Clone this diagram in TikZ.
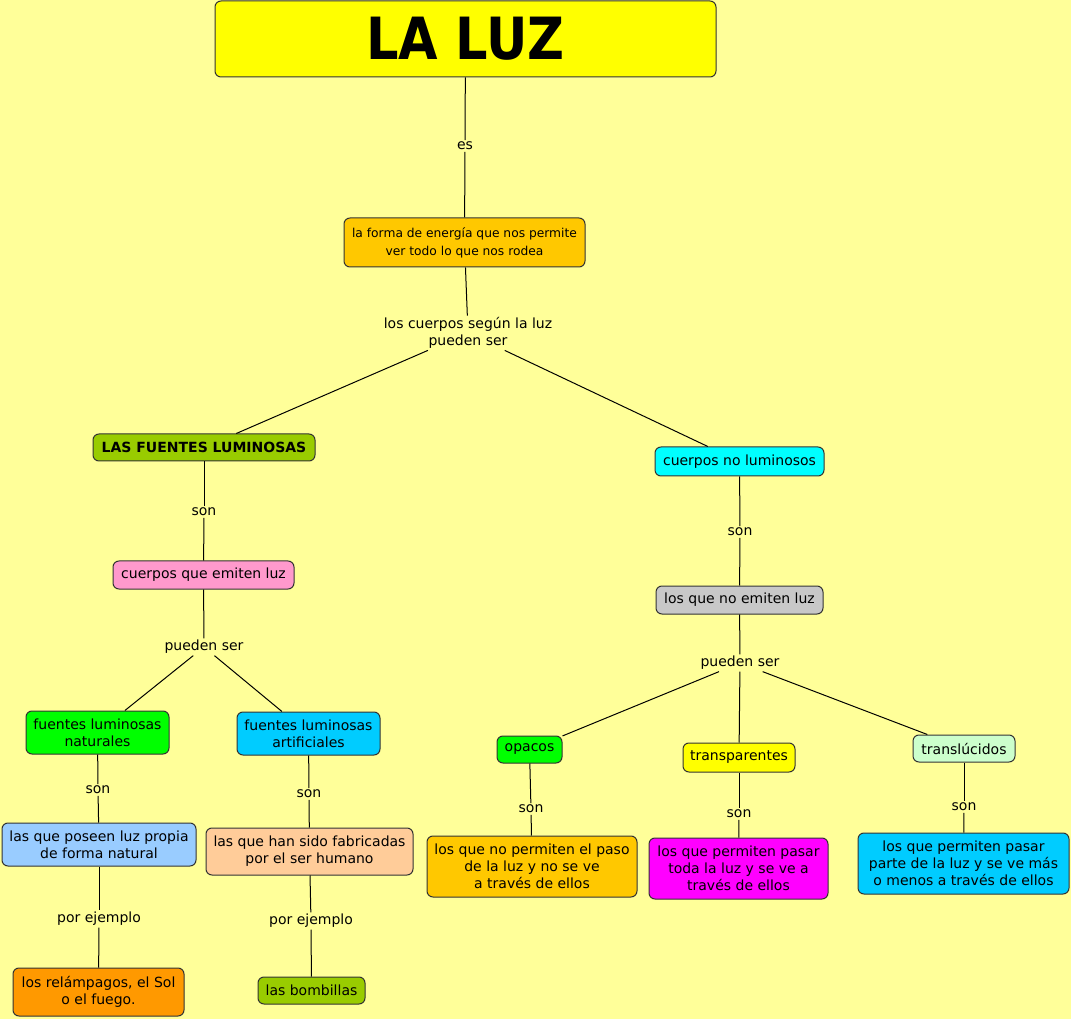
\documentclass[tikz,border=0pt]{standalone}
\usepackage{fontspec}
\setmainfont{DejaVu Sans}
\definecolor{bgc}{HTML}{FFFF99}
\definecolor{cyellow}{HTML}{FFFF00}
\definecolor{camber}{HTML}{FFC800}
\definecolor{colive}{HTML}{99CC00}
\definecolor{cpink}{HTML}{FF99CC}
\definecolor{cgreen}{HTML}{00FF00}
\definecolor{csky}{HTML}{00CCFF}
\definecolor{clblue}{HTML}{99CCFF}
\definecolor{corange}{HTML}{FF9900}
\definecolor{cpeach}{HTML}{FFCC99}
\definecolor{ccyan}{HTML}{00FFFF}
\definecolor{cgray}{HTML}{C8C8C8}
\definecolor{cmint}{HTML}{CCFFCC}
\definecolor{cmagenta}{HTML}{FF00FF}
\begin{document}
\begin{tikzpicture}[x=0.75pt,y=-0.75pt,
  box/.style={draw=black!80, rounded corners=4.5pt, line width=0.75pt, align=center, inner sep=0pt,
    font=\fontsize{10.5pt}{12.75pt}\selectfont},
  sz/.style 2 args={minimum width=#1*0.75pt, minimum height=#2*0.75pt},
  lbl/.style={align=center, inner sep=1.2pt, yshift=-1.5pt, font=\fontsize{10.5pt}{12.75pt}\selectfont},
  conn/.style={line width=0.75pt, draw=black}]
\fill[bgc] (0,0) rectangle (1071,1019);
\useasboundingbox (0,0) rectangle (1071,1019);

% boxes
\node[box, fill=cyellow, sz={501}{76}, font=\bfseries\fontsize{45pt}{45pt}\selectfont] (laluz) at (465.5,39) {\scalebox{0.85}[0.97]{LA LUZ}};
\node[box, fill=camber, sz={241}{49}, font=\fontsize{9.2pt}{13.5pt}\selectfont] (forma) at (464.5,242.5) {la forma de energía que nos permite\\ver todo lo que nos rodea};
\node[box, fill=colive, sz={222}{27}, font=\bfseries\fontsize{10.5pt}{12.75pt}\selectfont] (fuentes) at (204,447.5) {LAS FUENTES LUMINOSAS};
\node[box, fill=cpink, sz={181}{28}] (emiten) at (203.5,575) {cuerpos que emiten luz};
\node[box, fill=cgreen, sz={143}{43}] (naturales) at (97.5,732.5) {fuentes luminosas\\naturales};
\node[box, fill=csky, sz={143}{43}] (artificiales) at (308.5,733.5) {fuentes luminosas\\artificiales};
\node[box, fill=clblue, sz={194}{43}] (poseen) at (99,844.5) {las que poseen luz propia\\de forma natural};
\node[box, fill=corange, sz={171}{48}] (relampagos) at (98.5,992) {los relámpagos, el Sol\\o el fuego.};
\node[box, fill=cpeach, sz={207}{47}] (fabricadas) at (309.5,851.5) {las que han sido fabricadas\\por el ser humano};
\node[box, fill=colive, sz={107}{27}] (bombillas) at (311.5,990.5) {las bombillas};
\node[box, fill=ccyan, sz={169}{29}] (noluminosos) at (739.5,461.5) {cuerpos no luminosos};
\node[box, fill=cgray, sz={167}{28}] (noemiten) at (739.5,600) {los que no emiten luz};
\node[box, fill=cgreen, sz={65}{27}] (opacos) at (529.5,749.5) {opacos};
\node[box, fill=cyellow, sz={112}{29}] (transparentes) at (739,757.5) {transparentes};
\node[box, fill=cmint, sz={102}{27}] (translucidos) at (964,748.5) {translúcidos};
\node[box, fill=camber, sz={210}{61}] (nopermiten) at (532,866.5) {los que no permiten el paso\\de la luz y no se ve\\a través de ellos};
\node[box, fill=cmagenta, sz={179}{61}] (toda) at (738.5,868.5) {los que permiten pasar\\toda la luz y se ve a\\través de ellos};
\node[box, fill=csky, sz={211}{61}] (parte) at (963.5,863.5) {los que permiten pasar\\parte de la luz y se ve más\\o menos a través de ellos};

% linking phrases
\node[lbl] (es) at (465,144) {es};
\node[lbl] (segun) at (468,331) {los cuerpos según la luz\\pueden ser};
\node[lbl] (son1) at (204,510) {son};
\node[lbl] (pueden1) at (204,645) {pueden ser};
\node[lbl] (son2) at (98,788) {son};
\node[lbl] (ejemplo1) at (99,917) {por ejemplo};
\node[lbl] (son3) at (309,792) {son};
\node[lbl] (ejemplo2) at (311,919) {por ejemplo};
\node[lbl] (son4) at (740,530) {son};
\node[lbl] (pueden2) at (740,661) {pueden ser};
\node[lbl] (son5) at (531,807) {son};
\node[lbl] (son6) at (739,812) {son};
\node[lbl] (son7) at (964,805) {son};

% connectors
\draw[conn] (laluz) -- (es);
\draw[conn] (es) -- (forma);
\draw[conn] (forma) -- (segun);
\draw[conn] (segun) -- (fuentes);
\draw[conn] (segun) -- (noluminosos);
\draw[conn] (fuentes) -- (son1);
\draw[conn] (son1) -- (emiten);
\draw[conn] (emiten) -- (pueden1);
\draw[conn] (pueden1) -- (naturales);
\draw[conn] (pueden1) -- (artificiales);
\draw[conn] (naturales) -- (son2);
\draw[conn] (son2) -- (poseen);
\draw[conn] (poseen) -- (ejemplo1);
\draw[conn] (ejemplo1) -- (relampagos);
\draw[conn] (artificiales) -- (son3);
\draw[conn] (son3) -- (fabricadas);
\draw[conn] (fabricadas) -- (ejemplo2);
\draw[conn] (ejemplo2) -- (bombillas);
\draw[conn] (noluminosos) -- (son4);
\draw[conn] (son4) -- (noemiten);
\draw[conn] (noemiten) -- (pueden2);
\draw[conn] (pueden2) -- (opacos);
\draw[conn] (pueden2) -- (transparentes);
\draw[conn] (pueden2) -- (translucidos);
\draw[conn] (opacos) -- (son5);
\draw[conn] (son5) -- (nopermiten);
\draw[conn] (transparentes) -- (son6);
\draw[conn] (son6) -- (toda);
\draw[conn] (translucidos) -- (son7);
\draw[conn] (son7) -- (parte);
\end{tikzpicture}
\end{document}
